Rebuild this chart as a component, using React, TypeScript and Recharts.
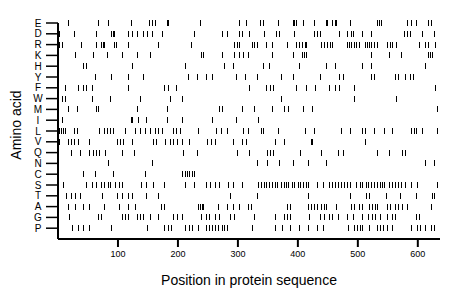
import { Label, Scatter, ScatterChart, XAxis, YAxis } from "recharts";

// residue letters, top row first
const LETTERS = ["E", "D", "R", "K", "H", "Y", "F", "W", "M", "I", "L", "V", "Q", "N", "C", "S", "T", "A", "G", "P"];

// positions of each residue in the sequence
const E_POS = [18, 67, 85, 123, 153, 157, 162, 182, 185, 237, 303, 315, 338, 342, 367, 392, 395, 398, 410, 427, 448, 450, 458, 462, 465, 487, 532, 536, 540, 582, 590, 598, 617, 622];
const D_POS = [2, 28, 65, 90, 93, 95, 117, 125, 133, 142, 150, 158, 175, 227, 275, 283, 302, 307, 320, 345, 365, 370, 395, 427, 432, 437, 470, 482, 490, 492, 507, 522, 578, 582, 587, 608, 627];
const R_POS = [3, 7, 40, 65, 73, 76, 78, 95, 98, 117, 167, 222, 295, 299, 303, 325, 328, 332, 348, 357, 383, 398, 403, 408, 412, 415, 440, 445, 450, 454, 458, 482, 486, 490, 495, 498, 503, 512, 516, 520, 523, 528, 533, 550, 555, 558, 565, 603, 612, 617, 630];
const K_POS = [30, 60, 83, 107, 133, 155, 240, 243, 275, 295, 302, 309, 317, 358, 392, 407, 411, 415, 522, 552, 573, 617, 621, 625];
const H_POS = [42, 48, 125, 213, 277, 292, 342, 353, 402, 448, 462, 508, 523, 612];
const Y_POS = [62, 90, 117, 142, 218, 233, 247, 258, 297, 312, 332, 372, 392, 437, 470, 476, 523, 527, 563, 567, 580, 588, 593];
const F_POS = [12, 35, 42, 48, 58, 117, 178, 185, 198, 320, 348, 354, 360, 398, 415, 430, 452, 462, 470, 495, 630];
const W_POS = [8, 13, 57, 87, 137, 187, 207, 373, 495, 565];
const M_POS = [17, 32, 65, 68, 133, 183, 270, 275, 308, 327, 357, 377, 385, 410, 425, 633];
const I_POS = [8, 122, 125, 135, 148, 182, 207, 258, 298, 335];
const L_POS = [2, 6, 10, 13, 27, 32, 70, 78, 82, 87, 92, 112, 130, 138, 146, 155, 163, 168, 175, 192, 198, 205, 235, 265, 273, 282, 310, 317, 340, 343, 367, 413, 428, 472, 487, 508, 512, 527, 545, 557, 590, 594, 598, 608, 633];
const V_POS = [3, 18, 23, 28, 35, 52, 100, 105, 110, 125, 160, 165, 180, 187, 193, 200, 207, 220, 250, 256, 262, 292, 308, 315, 363, 377, 422, 425, 512, 637];
const Q_POS = [22, 37, 52, 60, 65, 70, 80, 108, 128, 210, 233, 300, 320, 350, 355, 360, 405, 440, 468, 476, 532, 553, 575, 580];
const N_POS = [85, 158, 332, 350, 370, 393, 417, 447, 612, 627];
const C_POS = [42, 62, 92, 146, 208, 212, 216, 220, 224, 228];
const S_POS = [10, 47, 57, 65, 72, 78, 84, 88, 96, 103, 108, 140, 148, 160, 178, 213, 228, 248, 255, 262, 270, 285, 292, 307, 335, 340, 344, 348, 353, 357, 362, 366, 372, 377, 381, 385, 391, 395, 401, 405, 410, 415, 418, 433, 443, 452, 457, 462, 467, 472, 477, 483, 488, 497, 505, 508, 515, 518, 523, 527, 532, 537, 541, 545, 552, 557, 562, 568, 572, 580, 590, 600, 633];
const T_POS = [15, 22, 30, 38, 75, 100, 108, 117, 125, 148, 168, 288, 333, 418, 488, 515, 520, 547, 571, 598, 625, 628];
const A_POS = [17, 30, 43, 53, 78, 103, 117, 130, 173, 178, 235, 238, 241, 243, 267, 282, 292, 302, 318, 323, 383, 388, 417, 422, 427, 432, 440, 445, 448, 465, 490, 495, 502, 507, 520, 525, 530, 533, 550, 555, 562, 567, 575, 583, 623];
const G_POS = [20, 68, 72, 108, 112, 117, 132, 137, 142, 155, 167, 192, 200, 207, 240, 247, 253, 262, 270, 288, 295, 328, 363, 377, 382, 388, 420, 438, 445, 452, 458, 467, 482, 492, 508, 517, 525, 530, 538, 550, 557, 562, 598, 603];
const P_POS = [25, 35, 42, 52, 90, 150, 177, 185, 190, 212, 220, 225, 235, 247, 252, 257, 262, 267, 275, 278, 282, 325, 363, 375, 387, 402, 418, 432, 442, 485, 495, 500, 505, 508, 520, 532, 537, 543, 550, 557, 590, 600, 605, 612, 623, 628];

const ROWS = [E_POS, D_POS, R_POS, K_POS, H_POS, Y_POS, F_POS, W_POS, M_POS, I_POS, L_POS, V_POS, Q_POS, N_POS, C_POS, S_POS, T_POS, A_POS, G_POS, P_POS];

const X_TICKS = [100, 200, 300, 400, 500, 600];
const SEQ_LENGTH = 637;

const FONT = "'Liberation Sans', Arial, sans-serif";

function Tick(props: any) {
  const { cx, cy } = props;
  return (
    <line x1={cx} x2={cx} y1={cy - 3} y2={cy + 3} stroke="#000" strokeWidth={1} shapeRendering="crispEdges" />
  );
}

function LetterTick(props: any) {
  const { x, y, payload } = props;
  return (
    <text x={x - 6} y={y} dy="0.35em" textAnchor="middle" fontSize={10} fontFamily={FONT} fill="#000">
      {LETTERS[payload.value]}
    </text>
  );
}

function YTitle(props: any) {
  const { viewBox } = props;
  const x = viewBox.x + 8;
  const y = viewBox.y + viewBox.height / 2 - 6;
  return (
    <text
      x={x}
      y={y}
      transform={`rotate(-90, ${x}, ${y})`}
      textAnchor="middle"
      dy="0.35em"
      fontSize={14}
      fontFamily={FONT}
      fill="#000"
    >
      Amino acid
    </text>
  );
}

export default function App() {
  const series = ROWS.map((positions, row) => positions.map((pos) => ({ pos, row })));

  return (
    <ScatterChart width={452} height={291} margin={{ top: 15, right: 20, bottom: 0, left: 0 }}>
      <XAxis
        type="number"
        dataKey="pos"
        domain={[0, SEQ_LENGTH]}
        ticks={X_TICKS}
        allowDataOverflow
        height={60}
        tickSize={8}
        tickMargin={4}
        axisLine={{ stroke: "#000", strokeWidth: 2 }}
        tickLine={{ stroke: "#000", strokeWidth: 2 }}
        tick={{ fill: "#000", fontSize: 9, fontFamily: FONT }}
      >
        <Label
          value="Position in protein sequence"
          position="insideBottom"
          offset={14}
          style={{ fill: "#000", fontSize: 14, fontFamily: FONT }}
        />
      </XAxis>
      <YAxis
        type="number"
        dataKey="row"
        domain={[0, LETTERS.length]}
        ticks={LETTERS.map((_, i) => i)}
        reversed
        interval={0}
        width={50}
        tickSize={12}
        tickMargin={2}
        axisLine={{ stroke: "#000", strokeWidth: 2 }}
        tickLine={{ stroke: "#000", strokeWidth: 1.5 }}
        tick={<LetterTick />}
      >
        <Label content={<YTitle />} />
      </YAxis>
      {series.map((data, i) => (
        <Scatter key={LETTERS[i]} data={data} shape={<Tick />} isAnimationActive={false} />
      ))}
    </ScatterChart>
  );
}
